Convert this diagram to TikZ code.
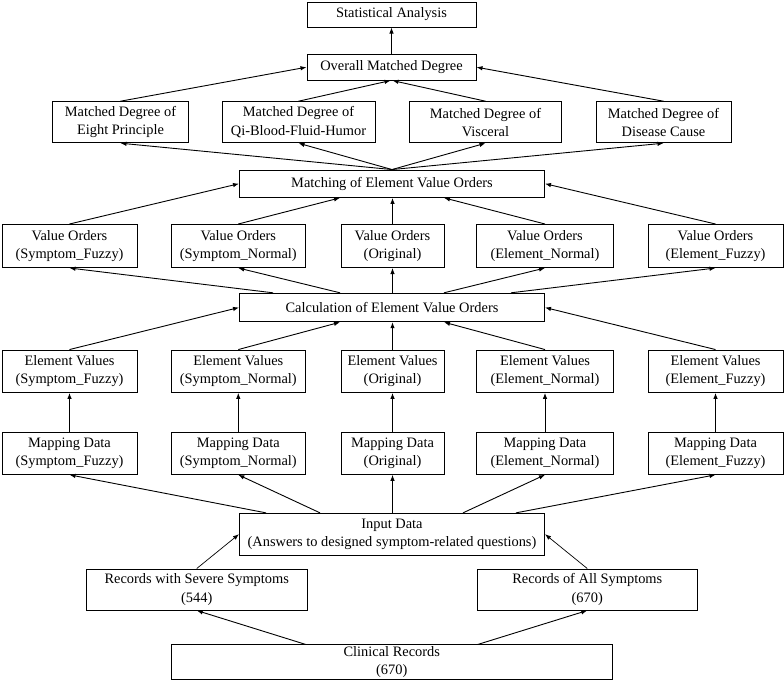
\documentclass[tikz,border=0pt]{standalone}
\usepackage{fontspec}
\setmainfont{Liberation Serif}
\usetikzlibrary{arrows.meta}
\tikzset{
  box/.style={draw, line width=1pt, inner sep=0pt, align=center,
    font=\fontsize{14.4}{18.3}\selectfont},
  arr/.style={line width=0.9pt, -{Latex[length=6pt,width=4.5pt]}},
  thinarr/.style={line width=0.7pt, -{Latex[length=6pt,width=4.5pt]}}
}
\begin{document}
\begin{tikzpicture}[x=1pt,y=-1pt]
\useasboundingbox (0,0) rectangle (784,681);
% top
\node[box, minimum width=169, minimum height=25] (stat) at (391.5,14.5) {Statistical Analysis};
\node[box, minimum width=169, minimum height=25.7] (overall) at (391.5,67.2) {Overall Matched Degree};
% matched degrees
\node[box, minimum width=136, minimum height=41] (md1) at (120.5,122.2) {Matched Degree of\\Eight Principle};
\node[box, minimum width=153, minimum height=41] (md2) at (298.5,122.2) {Matched Degree of\\Qi-Blood-Fluid-Humor};
\node[box, minimum width=152, minimum height=41] (md3) at (485.5,122.2) {Matched Degree of\\Visceral};
\node[box, minimum width=135, minimum height=41] (md4) at (663.5,122.2) {Matched Degree of\\Disease Cause};
% matching
\node[box, minimum width=305, minimum height=27.3] (match) at (392,183.7) {Matching of Element Value Orders};
% value orders
\node[box, minimum width=135, minimum height=43] (vo1) at (69.5,246) {Value Orders\\(Symptom\_Fuzzy)};
\node[box, minimum width=134, minimum height=43] (vo2) at (238.3,246) {Value Orders\\(Symptom\_Normal)};
\node[box, minimum width=103, minimum height=43] (vo3) at (392.5,246) {Value Orders\\(Original)};
\node[box, minimum width=136.5, minimum height=43] (vo4) at (545,246) {Value Orders\\(Element\_Normal)};
\node[box, minimum width=135, minimum height=43] (vo5) at (715.5,246) {Value Orders\\(Element\_Fuzzy)};
% calculation
\node[box, minimum width=305, minimum height=28.4] (calc) at (392,307.5) {Calculation of Element Value Orders};
% element values
\node[box, minimum width=135, minimum height=42.3] (ev1) at (69.5,371.2) {Element Values\\(Symptom\_Fuzzy)};
\node[box, minimum width=134, minimum height=42.3] (ev2) at (238.3,371.2) {Element Values\\(Symptom\_Normal)};
\node[box, minimum width=103, minimum height=42.3] (ev3) at (392.5,371.2) {Element Values\\(Original)};
\node[box, minimum width=136.5, minimum height=42.3] (ev4) at (545,371.2) {Element Values\\(Element\_Normal)};
\node[box, minimum width=135, minimum height=42.3] (ev5) at (715.5,371.2) {Element Values\\(Element\_Fuzzy)};
% mapping data
\node[box, minimum width=135, minimum height=42] (mp1) at (69.5,453.3) {Mapping Data\\(Symptom\_Fuzzy)};
\node[box, minimum width=134, minimum height=42] (mp2) at (238.3,453.3) {Mapping Data\\(Symptom\_Normal)};
\node[box, minimum width=103, minimum height=42] (mp3) at (392.5,453.3) {Mapping Data\\(Original)};
\node[box, minimum width=136.5, minimum height=42] (mp4) at (545,453.3) {Mapping Data\\(Element\_Normal)};
\node[box, minimum width=135, minimum height=42] (mp5) at (715.5,453.3) {Mapping Data\\(Element\_Fuzzy)};
% input
\node[box, minimum width=305, minimum height=41.7] (input) at (392,534.2) {Input Data\\(Answers to designed symptom-related questions)};
% records
\node[box, minimum width=220.5, minimum height=41] (rsev) at (196.75,589.5) {Records with Severe Symptoms\\(544)};
\node[box, minimum width=220.5, minimum height=41] (rall) at (587.25,589.5) {Records of All Symptoms\\(670)};
\node[box, minimum width=440.5, minimum height=34.5] (clin) at (391.75,662.2) {Clinical Records\\(670)};

% connectors
\draw[arr] (overall.north) -- (stat.south);
\draw[arr] (md1.north) -- (overall.west);
\draw[arr] (md2.north) -- ([xshift=-1pt]overall.south);
\draw[arr] (md3.north) -- ([xshift=1pt]overall.south);
\draw[arr] (md4.north) -- (overall.east);

\foreach \t in {md1,md2,md3,md4}
  \draw[arr] (match.north) -- (\t.south);

\draw[arr] (vo1.north) -- (match.west);
\draw[arr] (vo2.north) -- ([xshift=-52pt]match.south);
\draw[arr] (vo3.north) -- (vo3.north |- match.south);
\draw[arr] (vo4.north) -- ([xshift=52pt]match.south);
\draw[arr] (vo5.north) -- (match.east);

\draw[arr] ([xshift=-119pt]calc.north) -- (vo1.south);
\draw[arr] ([xshift=-52pt]calc.north) -- (vo2.south);
\draw[arr] (vo3.south |- calc.north) -- (vo3.south);
\draw[arr] ([xshift=52pt]calc.north) -- (vo4.south);
\draw[arr] ([xshift=119pt]calc.north) -- (vo5.south);

\draw[arr] (ev1.north) -- (calc.west);
\draw[arr] (ev2.north) -- ([xshift=-52pt]calc.south);
\draw[arr] (ev3.north) -- (ev3.north |- calc.south);
\draw[arr] (ev4.north) -- ([xshift=52pt]calc.south);
\draw[arr] (ev5.north) -- (calc.east);

\draw[arr] (mp1.north) -- (ev1.south);
\draw[arr] (mp2.north) -- (ev2.south);
\draw[arr] (mp3.north) -- (ev3.south);
\draw[arr] (mp4.north) -- (ev4.south);
\draw[arr] (mp5.north) -- (ev5.south);

\draw[arr] ([xshift=-126pt]input.north) -- (mp1.south);
\draw[arr] ([xshift=-72pt]input.north) -- (mp2.south);
\draw[arr] (mp3.south |- input.north) -- (mp3.south);
\draw[arr] ([xshift=71pt]input.north) -- (mp4.south);
\draw[arr] ([xshift=124pt]input.north) -- (mp5.south);

\draw[thinarr] (rsev.north) -- (input.west);
\draw[thinarr] (rall.north) -- (input.east);

\draw[arr] ([xshift=-86pt]clin.north) -- (rsev.south);
\draw[arr] ([xshift=86pt]clin.north) -- (rall.south);
\end{tikzpicture}
\end{document}
